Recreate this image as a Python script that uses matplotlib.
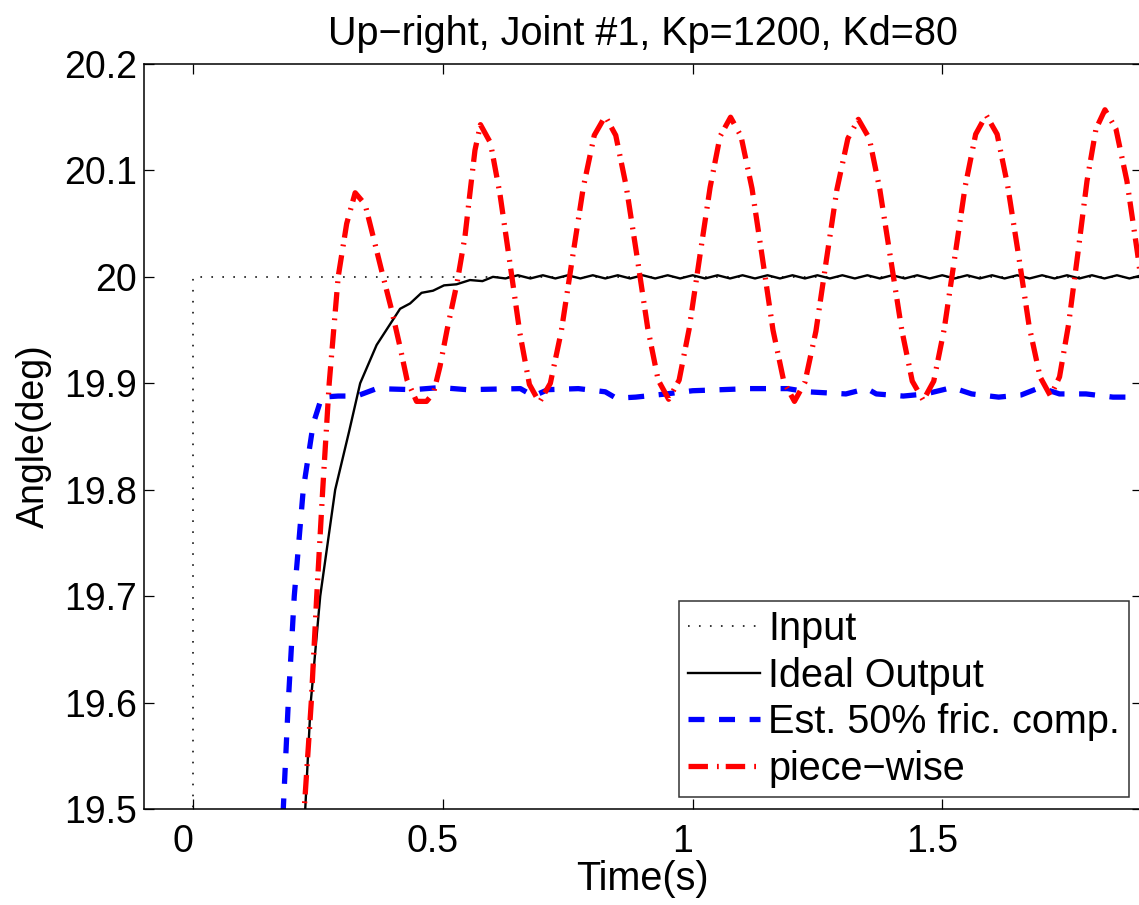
import numpy as np
import matplotlib
matplotlib.use("Agg")
import matplotlib.pyplot as plt
import matplotlib.transforms as mtransforms

plt.rcParams['font.family'] = ['Liberation Sans', 'DejaVu Sans']
plt.rcParams['lines.scale_dashes'] = False

# ---------------- data ----------------
input_t = [0.0, 0.0, 1.95]
input_y = [0.0, 20.0, 20.0]

ideal_t = [0.200, 0.224, 0.235, 0.254, 0.284, 0.312, 0.334, 0.367, 0.414, 0.434,
           0.457, 0.480, 0.502, 0.527, 0.554, 0.579, 0.600,
           0.625, 0.650, 0.675, 0.700, 0.725, 0.750, 0.775, 0.800, 0.825, 0.850,
           0.875, 0.900, 0.925, 0.950, 0.975, 1.000, 1.025, 1.050, 1.075, 1.100,
           1.125, 1.150, 1.175, 1.200, 1.225, 1.250, 1.275, 1.300, 1.325, 1.350,
           1.375, 1.400, 1.425, 1.450, 1.475, 1.500, 1.525, 1.550, 1.575, 1.600,
           1.625, 1.650, 1.675, 1.700, 1.725, 1.750, 1.775, 1.800, 1.825, 1.850,
           1.875, 1.900]
ideal_y = [19.25, 19.50, 19.60, 19.70, 19.80, 19.855, 19.90, 19.936, 19.970, 19.975,
           19.985, 19.987, 19.992, 19.993, 19.997, 19.996, 20.000,
           19.9985, 20.0015, 19.9985, 20.0015, 19.9985, 20.0015, 19.9985, 20.0015, 19.9985, 20.0015,
           19.9985, 20.0015, 19.9985, 20.0015, 19.9985, 20.0015, 19.9985, 20.0015, 19.9985, 20.0015,
           19.9985, 20.0015, 19.9985, 20.0015, 19.9985, 20.0015, 19.9985, 20.0015, 19.9985, 20.0015,
           19.9985, 20.0015, 19.9985, 20.0015, 19.9985, 20.0015, 19.9985, 20.0015, 19.9985, 20.0015,
           19.9985, 20.0015, 19.9985, 20.0015, 19.9985, 20.0015, 19.9985, 20.0015, 19.9985, 20.0015,
           19.9985, 20.0015]

fric_t = [0.170, 0.180, 0.190, 0.202, 0.220, 0.240, 0.257, 0.290, 0.327, 0.367,
          0.440, 0.494, 0.548, 0.655, 0.681, 0.710, 0.771, 0.825, 0.847, 0.886,
          0.947, 1.000, 1.115, 1.190, 1.230, 1.307, 1.349, 1.368, 1.422, 1.467,
          1.520, 1.559, 1.613, 1.658, 1.696, 1.735, 1.788, 1.842, 1.900]
fric_y = [19.30, 19.50, 19.60, 19.70, 19.80, 19.862, 19.887, 19.888, 19.888, 19.895,
          19.894, 19.896, 19.894, 19.895, 19.888, 19.894, 19.895, 19.892, 19.886, 19.887,
          19.890, 19.893, 19.895, 19.895, 19.892, 19.890, 19.895, 19.890, 19.888, 19.890,
          19.896, 19.890, 19.887, 19.889, 19.896, 19.890, 19.890, 19.887, 19.887]

piece_t = [0.200, 0.222, 0.236, 0.247, 0.259, 0.272, 0.290, 0.307, 0.324, 0.344,
           0.360, 0.378, 0.397, 0.414, 0.428, 0.447, 0.467, 0.481, 0.494, 0.508,
           0.528, 0.544, 0.554, 0.564, 0.575,
           0.595, 0.614, 0.634, 0.654, 0.673, 0.693,
           0.715, 0.737, 0.759, 0.781, 0.803, 0.825,
           0.846, 0.867, 0.889, 0.910, 0.931, 0.952,
           0.973, 0.993, 1.014, 1.035, 1.055, 1.076,
           1.097, 1.119, 1.140, 1.161, 1.183, 1.204,
           1.225, 1.247, 1.268, 1.289, 1.311, 1.332,
           1.354, 1.375, 1.397, 1.419, 1.440, 1.462,
           1.483, 1.504, 1.525, 1.546, 1.567, 1.588,
           1.610, 1.631, 1.653, 1.674, 1.696, 1.717,
           1.735, 1.753, 1.772, 1.790, 1.808, 1.826,
           1.848, 1.870, 1.891, 1.910]
piece_y = [19.20, 19.50, 19.60, 19.70, 19.80, 19.90, 20.00, 20.05, 20.079, 20.068,
           20.038, 20.004, 19.969, 19.934, 19.903, 19.883, 19.883, 19.891, 19.916, 19.950,
           19.994, 20.038, 20.079, 20.119, 20.143,
           20.126, 20.078, 20.013, 19.947, 19.899, 19.882,
           19.900, 19.949, 20.017, 20.084, 20.133, 20.151,
           20.133, 20.085, 20.018, 19.952, 19.903, 19.885,
           19.903, 19.951, 20.018, 20.084, 20.132, 20.150,
           20.132, 20.083, 20.017, 19.950, 19.901, 19.883,
           19.901, 19.949, 20.016, 20.082, 20.130, 20.148,
           20.130, 20.082, 20.016, 19.950, 19.902, 19.884,
           19.902, 19.951, 20.018, 20.085, 20.134, 20.152,
           20.134, 20.086, 20.020, 19.954, 19.906, 19.888,
           19.906, 19.955, 20.023, 20.090, 20.139, 20.157,
           20.139, 20.090, 20.023, 19.955]

labels = ["Input", "Ideal Output", "Est. 50% fric. comp.", "piece\u2212wise"]
title = "Up\u2212right, Joint #1, Kp=1200, Kd=80"
xticks = [0, 0.5, 1, 1.5]
xticklabels = ["0", "0.5", "1", "1.5"]
yticks = [19.5, 19.6, 19.7, 19.8, 19.9, 20.0, 20.1, 20.2]
yticklabels = ["19.5", "19.6", "19.7", "19.8", "19.9", "20", "20.1", "20.2"]

# ---------------- figure ----------------
W, H = 1139, 905
fig = plt.figure(figsize=(W / 100, H / 100), dpi=100)
left_px, right_px, top_px, bot_px = 143.5, 1141.9, 64.0, 809.0
ax = fig.add_axes([left_px / W, (H - bot_px) / H, (right_px - left_px) / W, (bot_px - top_px) / H])

FS = 28.5
TFS = 27

ax.plot(input_t, input_y, color='black', lw=1.1, dashes=(1.2, 6.7), label=labels[0])
ax.plot(ideal_t, ideal_y, color='black', lw=1.7, label=labels[1])
ax.plot(fric_t, fric_y, color='#0000ff', lw=3.8, dashes=(11.5, 10.5), label=labels[2])
ax.plot(piece_t, piece_y, color='#ff0000', lw=3.8, dashes=(14.0, 6.5, 1.3, 5.0), label=labels[3])

ax.set_xlim(-0.1, 1.9)
ax.set_ylim(19.5, 20.2)
ax.set_xticks(xticks)
ax.set_xticklabels(xticklabels)
ax.set_yticks(yticks)
ax.set_yticklabels(yticklabels)
ax.tick_params(direction='in', length=7.2, width=0.9, top=True, right=True, labelsize=TFS)
ax.tick_params(axis='x', pad=11)
ax.tick_params(axis='y', pad=4.7)
shift = mtransforms.ScaledTranslation(-10 / 100, 0, fig.dpi_scale_trans)
for lab in ax.get_xticklabels():
    lab.set_transform(lab.get_transform() + shift)
for s in ax.spines.values():
    s.set_linewidth(1.1)

ax.set_title(title, fontsize=FS, pad=14)
ax.set_xlabel("Time(s)", fontsize=FS, labelpad=0)
ax.set_ylabel("Angle(deg)", fontsize=TFS, labelpad=9)

leg = ax.legend(loc='lower right', bbox_to_anchor=(0.987, 0.0165), borderaxespad=0,
                fontsize=FS, frameon=True, fancybox=False, edgecolor='black',
                handlelength=1.82, handletextpad=0.22, labelspacing=0.22,
                borderpad=0.22)
leg.get_frame().set_linewidth(1.1)

fig.savefig("out.png", dpi=100)
